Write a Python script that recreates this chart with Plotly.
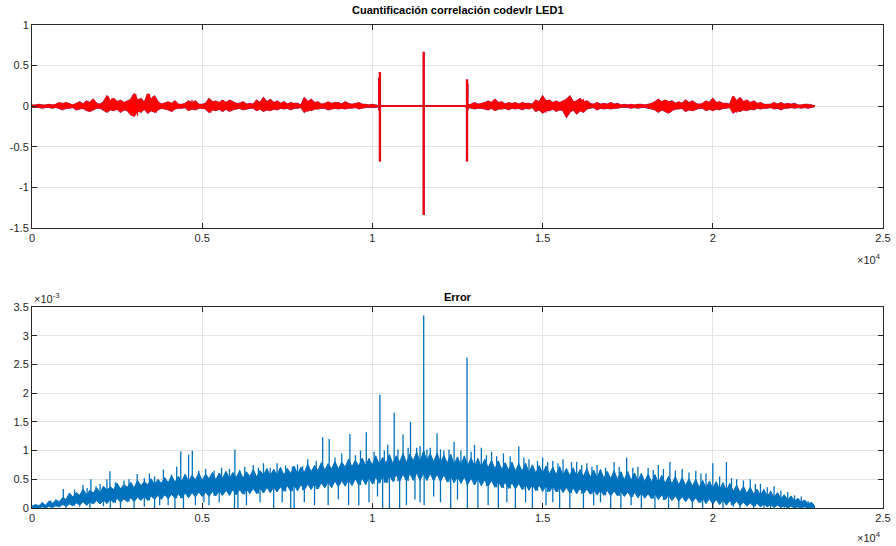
import plotly.graph_objects as go

# ---------------- data ----------------
# top subplot: correlation signal envelope, one value per 100 samples (x = 0 .. 23000)
corr_step = 100
corr_hi = [
    0.01, 0.01, 0.02, 0.01, 0.01, 0.02, 0.01, 0.02, 0.04, 0.03,
    0.04, 0.02, 0.01, 0.03, 0.05, 0.02, 0.06, 0.04, 0.08, 0.03,
    0.02, 0.05, 0.12, 0.06, 0.09, 0.05, 0.07, 0.04, 0.06, 0.08,
    0.15, 0.07, 0.09, 0.04, 0.15, 0.08, 0.12, 0.05, 0.02, 0.04,
    0.05, 0.03, 0.06, 0.02, 0.02, 0.03, 0.06, 0.04, 0.06, 0.02,
    0.02, 0.03, 0.09, 0.05, 0.06, 0.04, 0.07, 0.04, 0.07, 0.05,
    0.03, 0.03, 0.05, 0.02, 0.03, 0.02, 0.07, 0.04, 0.10, 0.05,
    0.08, 0.04, 0.06, 0.03, 0.05, 0.02, 0.04, 0.03, 0.03, 0.01,
    0.10, 0.05, 0.08, 0.04, 0.05, 0.02, 0.03, 0.05, 0.03, 0.04,
    0.04, 0.02, 0.05, 0.03, 0.02, 0.03, 0.04, 0.02, 0.02, 0.01,
    0.02, 0.01, 0.0, 0.0, 0.0, 0.0, 0.0, 0.0, 0.0, 0.0,
    0.0, 0.0, 0.0, 0.0, 0.0, 0.0, 0.0, 0.0, 0.0, 0.0,
    0.0, 0.0, 0.0, 0.0, 0.0, 0.0, 0.0, 0.0, 0.01, 0.02,
    0.04, 0.02, 0.03, 0.04, 0.06, 0.04, 0.08, 0.04, 0.05, 0.02,
    0.04, 0.03, 0.04, 0.02, 0.04, 0.03, 0.03, 0.02, 0.07, 0.05,
    0.12, 0.06, 0.07, 0.04, 0.06, 0.04, 0.06, 0.08, 0.12, 0.05,
    0.06, 0.09, 0.05, 0.06, 0.03, 0.02, 0.04, 0.02, 0.03, 0.02,
    0.04, 0.02, 0.03, 0.01, 0.02, 0.01, 0.02, 0.01, 0.02, 0.02,
    0.01, 0.02, 0.03, 0.05, 0.08, 0.05, 0.07, 0.05, 0.06, 0.03,
    0.05, 0.03, 0.07, 0.04, 0.06, 0.03, 0.02, 0.03, 0.06, 0.04,
    0.09, 0.04, 0.05, 0.03, 0.03, 0.02, 0.12, 0.06, 0.10, 0.05,
    0.07, 0.04, 0.06, 0.03, 0.04, 0.02, 0.02, 0.02, 0.04, 0.02,
    0.04, 0.02, 0.03, 0.02, 0.03, 0.01, 0.01, 0.02, 0.02, 0.01,
    0.0,
]
corr_lo = [
    -0.01, -0.01, -0.01, -0.02, -0.01, -0.01, -0.02, -0.01, -0.03, -0.04,
    -0.02, -0.02, -0.01, -0.04, -0.03, -0.02, -0.05, -0.06, -0.04, -0.02,
    -0.02, -0.04, -0.07, -0.04, -0.05, -0.03, -0.07, -0.04, -0.05, -0.10,
    -0.12, -0.05, -0.07, -0.03, -0.08, -0.05, -0.07, -0.04, -0.02, -0.03,
    -0.04, -0.06, -0.03, -0.02, -0.02, -0.01, -0.05, -0.03, -0.04, -0.02,
    -0.02, -0.03, -0.07, -0.04, -0.05, -0.03, -0.06, -0.03, -0.06, -0.04,
    -0.03, -0.02, -0.04, -0.03, -0.02, -0.02, -0.05, -0.03, -0.06, -0.04,
    -0.05, -0.03, -0.04, -0.02, -0.03, -0.02, -0.04, -0.02, -0.02, -0.01,
    -0.07, -0.04, -0.05, -0.03, -0.03, -0.02, -0.02, -0.04, -0.03, -0.02,
    -0.03, -0.02, -0.03, -0.02, -0.02, -0.01, -0.03, -0.02, -0.01, -0.01,
    -0.01, -0.01, 0.0, 0.0, 0.0, 0.0, 0.0, 0.0, 0.0, 0.0,
    0.0, 0.0, 0.0, 0.0, 0.0, 0.0, 0.0, 0.0, 0.0, 0.0,
    0.0, 0.0, 0.0, 0.0, 0.0, 0.0, 0.0, 0.0, -0.01, -0.02,
    -0.03, -0.02, -0.02, -0.03, -0.04, -0.02, -0.05, -0.03, -0.03, -0.02,
    -0.04, -0.02, -0.03, -0.02, -0.04, -0.02, -0.03, -0.01, -0.06, -0.04,
    -0.08, -0.05, -0.05, -0.03, -0.06, -0.04, -0.05, -0.13, -0.07, -0.04,
    -0.09, -0.05, -0.07, -0.03, -0.02, -0.01, -0.04, -0.02, -0.03, -0.02,
    -0.03, -0.02, -0.02, -0.01, -0.01, -0.01, -0.02, -0.01, -0.02, -0.01,
    -0.01, -0.02, -0.03, -0.04, -0.07, -0.04, -0.06, -0.08, -0.05, -0.03,
    -0.03, -0.02, -0.06, -0.04, -0.05, -0.03, -0.02, -0.02, -0.05, -0.03,
    -0.05, -0.03, -0.04, -0.02, -0.02, -0.01, -0.08, -0.05, -0.06, -0.04,
    -0.05, -0.03, -0.04, -0.02, -0.03, -0.02, -0.02, -0.01, -0.03, -0.02,
    -0.04, -0.02, -0.02, -0.01, -0.02, -0.01, -0.02, -0.01, -0.02, -0.01,
    0.0,
]
# sharp tips inside the correlation bursts (sample index, value)
tip_x = [1750, 2250, 2350, 2900, 3050, 3100, 3450, 3550, 3650, 4700, 5200, 5250,
         6800, 7000, 8000, 8100, 8200, 13600, 15000, 15100, 15700, 15800, 16000,
         16200, 18400, 18700, 19200, 20000, 20600, 20700, 20800]
tip_y = [0.08, 0.12, 0.10, -0.11, 0.15, -0.12, 0.15, 0.12, -0.08, 0.08, 0.09, -0.08,
         0.10, 0.08, 0.10, -0.07, 0.08, 0.08, 0.12, -0.08, -0.13, 0.12, -0.09,
         0.09, 0.08, -0.08, 0.07, 0.09, 0.12, -0.08, 0.10]
# isolated correlation peaks
peak_x = [10200, 10220, 11507, 12780, 12790]
peak_hi = [0.35, 0.42, 0.67, 0.33, 0.28]
peak_lo = [-0.05, -0.68, -1.34, -0.68, -0.05]

# bottom subplot: error (units of 1e-3), dense core band, one value per 100 samples
err_step = 100
err_hi = [
    0.03, 0.06, 0.04, 0.09, 0.05, 0.12, 0.08, 0.14, 0.11, 0.18,
    0.15, 0.26, 0.19, 0.27, 0.22, 0.33, 0.23, 0.31, 0.26, 0.35,
    0.27, 0.38, 0.31, 0.37, 0.32, 0.43, 0.33, 0.41, 0.36, 0.45,
    0.35, 0.48, 0.39, 0.46, 0.40, 0.51, 0.41, 0.50, 0.43, 0.53,
    0.44, 0.56, 0.45, 0.55, 0.47, 0.59, 0.46, 0.57, 0.49, 0.61,
    0.48, 0.59, 0.51, 0.62, 0.49, 0.61, 0.52, 0.64, 0.51, 0.62,
    0.53, 0.65, 0.52, 0.63, 0.55, 0.67, 0.54, 0.65, 0.57, 0.69,
    0.56, 0.67, 0.58, 0.71, 0.57, 0.69, 0.60, 0.73, 0.59, 0.71,
    0.62, 0.76, 0.63, 0.74, 0.65, 0.79, 0.66, 0.77, 0.68, 0.81,
    0.68, 0.80, 0.71, 0.85, 0.72, 0.83, 0.73, 0.87, 0.74, 0.86,
    0.75, 0.91, 0.76, 0.88, 0.78, 0.93, 0.77, 0.91, 0.80, 0.95,
    0.79, 0.94, 0.82, 0.97, 0.81, 0.99, 0.83, 0.95, 0.80, 0.96,
    0.79, 0.92, 0.78, 0.93, 0.76, 0.89, 0.75, 0.91, 0.74, 0.87,
    0.73, 0.86, 0.71, 0.85, 0.70, 0.83, 0.68, 0.82, 0.67, 0.79,
    0.66, 0.80, 0.64, 0.77, 0.64, 0.78, 0.62, 0.75, 0.61, 0.74,
    0.60, 0.73, 0.59, 0.71, 0.58, 0.72, 0.57, 0.69, 0.56, 0.70,
    0.55, 0.67, 0.55, 0.69, 0.53, 0.66, 0.53, 0.67, 0.52, 0.64,
    0.51, 0.65, 0.50, 0.63, 0.49, 0.64, 0.48, 0.61, 0.47, 0.60,
    0.46, 0.59, 0.45, 0.58, 0.44, 0.57, 0.43, 0.55, 0.42, 0.55,
    0.40, 0.53, 0.39, 0.51, 0.38, 0.50, 0.36, 0.48, 0.35, 0.47,
    0.34, 0.46, 0.32, 0.44, 0.30, 0.43, 0.29, 0.40, 0.27, 0.38,
    0.25, 0.36, 0.24, 0.33, 0.22, 0.32, 0.20, 0.29, 0.18, 0.27,
    0.16, 0.23, 0.14, 0.21, 0.12, 0.17, 0.10, 0.14, 0.07, 0.10,
    0.03,
]
err_lo = [
    0.0, 0.01, 0.0, 0.02, 0.0, 0.03, 0.01, 0.04, 0.02, 0.06,
    0.03, 0.07, 0.04, 0.09, 0.05, 0.11, 0.05, 0.10, 0.07, 0.13,
    0.07, 0.14, 0.08, 0.15, 0.09, 0.17, 0.10, 0.16, 0.11, 0.18,
    0.11, 0.19, 0.13, 0.20, 0.13, 0.21, 0.15, 0.22, 0.15, 0.23,
    0.16, 0.24, 0.17, 0.25, 0.17, 0.26, 0.18, 0.27, 0.19, 0.28,
    0.20, 0.28, 0.20, 0.29, 0.21, 0.30, 0.22, 0.31, 0.22, 0.32,
    0.23, 0.32, 0.24, 0.33, 0.25, 0.34, 0.25, 0.35, 0.26, 0.36,
    0.27, 0.36, 0.28, 0.37, 0.29, 0.39, 0.29, 0.40, 0.30, 0.41,
    0.31, 0.42, 0.32, 0.43, 0.33, 0.44, 0.35, 0.46, 0.35, 0.47,
    0.37, 0.48, 0.38, 0.49, 0.39, 0.51, 0.40, 0.52, 0.41, 0.53,
    0.42, 0.54, 0.43, 0.56, 0.44, 0.57, 0.46, 0.58, 0.46, 0.59,
    0.47, 0.60, 0.48, 0.61, 0.48, 0.60, 0.48, 0.60, 0.47, 0.59,
    0.46, 0.58, 0.45, 0.56, 0.44, 0.55, 0.43, 0.54, 0.41, 0.52,
    0.40, 0.51, 0.39, 0.49, 0.38, 0.48, 0.36, 0.47, 0.35, 0.45,
    0.34, 0.44, 0.33, 0.43, 0.32, 0.42, 0.31, 0.41, 0.30, 0.40,
    0.29, 0.39, 0.28, 0.38, 0.28, 0.37, 0.27, 0.36, 0.26, 0.35,
    0.25, 0.34, 0.25, 0.33, 0.24, 0.32, 0.23, 0.31, 0.22, 0.31,
    0.21, 0.30, 0.21, 0.29, 0.20, 0.28, 0.19, 0.27, 0.18, 0.26,
    0.17, 0.25, 0.16, 0.24, 0.15, 0.23, 0.14, 0.22, 0.13, 0.21,
    0.12, 0.20, 0.11, 0.19, 0.10, 0.18, 0.09, 0.17, 0.08, 0.16,
    0.07, 0.15, 0.06, 0.14, 0.05, 0.13, 0.05, 0.12, 0.04, 0.10,
    0.03, 0.09, 0.03, 0.08, 0.02, 0.07, 0.02, 0.06, 0.01, 0.05,
    0.01, 0.04, 0.0, 0.03, 0.0, 0.02, 0.0, 0.02, 0.0, 0.01,
    0.0,
]
# upward error spikes: sample index and peak value (1e-3)
up_x = [300, 550, 700, 920, 1100, 1250, 1500, 1620, 1730, 1880, 2000, 2200, 2290,
        2450, 2700, 2850, 3090, 3300, 3450, 3600, 3860, 4100, 4250, 4370, 4600, 4710,
        4900, 5100, 5350, 5570, 5800, 5960, 6100, 6250, 6500, 6650, 6800, 7000, 7200,
        7450, 7650, 7800, 7950, 8100, 8350, 8540, 8730, 8900, 9100, 9340, 9500, 9650,
        9820, 10050, 10220, 10350, 10450, 10640, 10750, 10900, 11050, 11120, 11300,
        11400, 11507, 11600, 11700, 11900, 12000, 12100, 12250, 12400, 12600, 12780,
        12900, 13000, 13200, 13350, 13500, 13650, 13850, 14050, 14300, 14450, 14600,
        14850, 15000, 15150, 15300, 15450, 15600, 15850, 16000, 16150, 16300, 16450,
        16600, 16850, 17100, 17250, 17470, 17650, 17800, 18100, 18250, 18400, 18550,
        18740, 18900, 19100, 19300, 19500, 19650, 19800, 20000, 20200, 20400, 20550,
        20700, 20900, 21100, 21250, 21400, 21600, 21800, 22000, 22200, 22400, 22600,
        22800]
up_top = [0.10, 0.13, 0.15, 0.33, 0.25, 0.32, 0.40, 0.35, 0.50, 0.38, 0.42, 0.50, 0.64,
          0.45, 0.48, 0.50, 0.59, 0.52, 0.60, 0.55, 0.67, 0.58, 0.72, 0.99, 0.93, 1.00,
          0.65, 0.68, 0.65, 0.70, 0.68, 1.02, 0.66, 0.72, 0.75, 0.70, 0.78, 0.70, 0.78,
          0.74, 0.72, 0.76, 0.73, 0.85, 0.82, 1.23, 1.20, 0.88, 0.95, 1.29, 0.92, 1.00,
          1.32, 0.98, 1.97, 1.00, 1.10, 1.66, 1.02, 1.28, 1.05, 1.50, 1.05, 1.08, 3.35,
          1.02, 1.05, 1.30, 1.02, 1.00, 1.02, 1.15, 1.00, 2.62, 0.98, 1.10, 1.05, 0.92,
          0.98, 0.90, 0.95, 0.90, 1.07, 0.88, 0.85, 0.82, 0.88, 0.80, 0.82, 0.78, 0.85,
          0.80, 0.80, 0.75, 0.78, 0.72, 0.75, 0.70, 0.80, 0.72, 0.88, 0.70, 0.72, 0.70,
          0.66, 0.75, 0.68, 0.80, 0.65, 0.68, 0.62, 0.65, 0.60, 0.60, 0.78, 0.55, 0.80,
          0.52, 0.50, 0.48, 0.50, 0.42, 0.42, 0.36, 0.38, 0.30, 0.28, 0.22, 0.20, 0.12]
# downward error dips: sample index and lowest value (1e-3)
dn_x = [1000, 1400, 1700, 2100, 2300, 2600, 3000, 3300, 3600, 3750, 4000, 4200, 4450,
        4800, 5050, 5200, 5500, 5950, 6050, 6300, 6700, 7100, 7350, 7600, 7700, 8000,
        8300, 8700, 9000, 9300, 9600, 9900, 10150, 10300, 10500, 10800, 11000, 11250,
        11400, 11520, 11800, 12000, 12300, 12500, 12790, 13100, 13400, 13700, 13950,
        14200, 14500, 14700, 15100, 15300, 15500, 15800, 16200, 16500, 16700, 17000,
        17300, 17600, 17900, 18300, 18700, 19000, 19400, 19700, 20000, 20300, 20600,
        20800, 21200, 21500, 21700, 22100]
dn_bot = [0.0, 0.02, 0.0, 0.03, 0.0, 0.0, 0.0, 0.02, 0.0, 0.05, 0.05, 0.0, 0.0,
          0.05, 0.10, 0.05, 0.10, 0.0, 0.0, 0.05, 0.10, 0.0, 0.10, 0.0, 0.0, 0.10,
          0.05, 0.05, 0.15, 0.05, 0.05, 0.10, 0.20, 0.0, 0.0, 0.0, 0.05, 0.15,
          0.10, 0.05, 0.20, 0.10, 0.0, 0.15, 0.0, 0.0, 0.05, 0.0, 0.10,
          0.0, 0.10, 0.0, 0.05, 0.10, 0.0, 0.0, 0.0, 0.05, 0.10, 0.0,
          0.0, 0.05, 0.0, 0.0, 0.0, 0.0, 0.0, 0.0, 0.0, 0.0, 0.02,
          0.0, 0.0, 0.0, 0.0, 0.0]

x_ticks = [0, 5000, 10000, 15000, 20000, 25000]
x_ticktext = ["0", "0.5", "1", "1.5", "2", "2.5"]
top_yticks = [-1.5, -1, -0.5, 0, 0.5, 1]
top_yticktext = ["-1.5", "-1", "-0.5", "0", "0.5", "1"]
bot_yticks = [0, 0.5, 1, 1.5, 2, 2.5, 3, 3.5]
bot_yticktext = ["0", "0.5", "1", "1.5", "2", "2.5", "3", "3.5"]

top_title = "Cuantificación correlación codevlr LED1"
bot_title = "Error"

# ---------------- figure ----------------
corr_x = [i * corr_step for i in range(len(corr_hi))]
err_x = [i * err_step for i in range(len(err_hi))]

pk_x, pk_y = [], []
for xv, hi, lo in zip(peak_x, peak_hi, peak_lo):
    pk_x += [xv, xv, None]
    pk_y += [hi, lo, None]

tp_x, tp_y = [], []
for xv, yv in zip(tip_x, tip_y):
    tp_x += [xv, xv, None]
    tp_y += [0, yv, None]

sp_x, sp_y = [], []
for xv, top in zip(up_x, up_top):
    base = err_lo[round(xv / err_step)]
    sp_x += [xv, xv, None]
    sp_y += [base, top, None]
for xv, bot in zip(dn_x, dn_bot):
    base = err_hi[round(xv / err_step)]
    sp_x += [xv, xv, None]
    sp_y += [base, bot, None]

W, H = 896, 546
L, R = 32, 883
AX = "#262626"
GRID = "#e3e3e3"
FONT = "Liberation Sans, Arial, sans-serif"
RED = "#FF0000"
PURPLE = "#7E2F8E"
BLUE = "#0072BD"

fig = go.Figure()
# purple underlay (second, overlapping series)
fig.add_trace(go.Scatter(x=corr_x, y=corr_lo, mode="lines", line=dict(color=PURPLE, width=1.8),
                         xaxis="x", yaxis="y", hoverinfo="skip"))
fig.add_trace(go.Scatter(x=corr_x, y=corr_hi, mode="lines", line=dict(color=PURPLE, width=1.8),
                         xaxis="x", yaxis="y", hoverinfo="skip"))
fig.add_trace(go.Scatter(x=pk_x, y=pk_y, mode="lines", line=dict(color="#B0174F", width=2.4),
                         xaxis="x", yaxis="y", hoverinfo="skip"))
# red correlation
fig.add_trace(go.Scatter(x=corr_x, y=corr_lo, mode="lines", line=dict(color=RED, width=1.2),
                         xaxis="x", yaxis="y"))
fig.add_trace(go.Scatter(x=corr_x, y=corr_hi, mode="lines", line=dict(color=RED, width=1.2),
                         fill="tonexty", fillcolor=RED, xaxis="x", yaxis="y"))
fig.add_trace(go.Scatter(x=tp_x, y=tp_y, mode="lines", line=dict(color=RED, width=1.3),
                         xaxis="x", yaxis="y"))
fig.add_trace(go.Scatter(x=pk_x, y=pk_y, mode="lines", line=dict(color=RED, width=1.6),
                         xaxis="x", yaxis="y"))
# error
fig.add_trace(go.Scatter(x=err_x, y=err_lo, mode="lines", line=dict(color=BLUE, width=1),
                         xaxis="x2", yaxis="y2"))
fig.add_trace(go.Scatter(x=err_x, y=err_hi, mode="lines", line=dict(color=BLUE, width=1),
                         fill="tonexty", fillcolor=BLUE, xaxis="x2", yaxis="y2"))
fig.add_trace(go.Scatter(x=sp_x, y=sp_y, mode="lines", line=dict(color=BLUE, width=1.3),
                         xaxis="x2", yaxis="y2"))


def xdom():
    return [L / W, R / W]


def ydom(top_px, bot_px):
    return [(H - bot_px) / H, (H - top_px) / H]


axis_common = dict(showline=True, linecolor=AX, linewidth=1, mirror="ticks",
                   ticks="inside", ticklen=5, tickcolor=AX, tickwidth=1,
                   showgrid=True, gridcolor=GRID, gridwidth=1, zeroline=False,
                   automargin=False,
                   tickfont=dict(family=FONT, size=11, color=AX), fixedrange=True)

fig.update_layout(
    width=W, height=H, margin=dict(l=0, r=0, t=0, b=0, autoexpand=False),
    paper_bgcolor="white", plot_bgcolor="white", showlegend=False,
    xaxis=dict(domain=xdom(), anchor="y", range=[0, 25000], tickvals=x_ticks,
               ticktext=x_ticktext, **axis_common),
    yaxis=dict(domain=ydom(25, 228), anchor="x", range=[-1.5, 1], tickvals=top_yticks,
               ticktext=top_yticktext, **axis_common),
    xaxis2=dict(domain=xdom(), anchor="y2", range=[0, 25000], tickvals=x_ticks,
                ticktext=x_ticktext, **axis_common),
    yaxis2=dict(domain=ydom(307, 508), anchor="x2", range=[0, 3.5], tickvals=bot_yticks,
                ticktext=bot_yticktext, **axis_common),
    annotations=[
        dict(text="<b>" + top_title + "</b>", x=(L + R) / 2 / W, y=(H - 10) / H,
             xref="paper", yref="paper", showarrow=False, xanchor="center", yanchor="middle",
             font=dict(family=FONT, size=11, color="black")),
        dict(text="<b>" + bot_title + "</b>", x=(L + R) / 2 / W, y=(H - 297) / H,
             xref="paper", yref="paper", showarrow=False, xanchor="center", yanchor="middle",
             font=dict(family=FONT, size=11, color="black")),
        dict(text="×10<sup>4</sup>", x=R / W, y=(H - 259) / H, xref="paper", yref="paper",
             showarrow=False, xanchor="right", yanchor="middle",
             font=dict(family=FONT, size=11, color=AX)),
        dict(text="×10<sup>4</sup>", x=R / W, y=(H - 537) / H, xref="paper", yref="paper",
             showarrow=False, xanchor="right", yanchor="middle",
             font=dict(family=FONT, size=11, color=AX)),
        dict(text="×10<sup>-3</sup>", x=L / W, y=(H - 298) / H, xref="paper", yref="paper",
             showarrow=False, xanchor="left", yanchor="middle",
             font=dict(family=FONT, size=11, color=AX)),
    ],
)

fig.write_html("out.html")
